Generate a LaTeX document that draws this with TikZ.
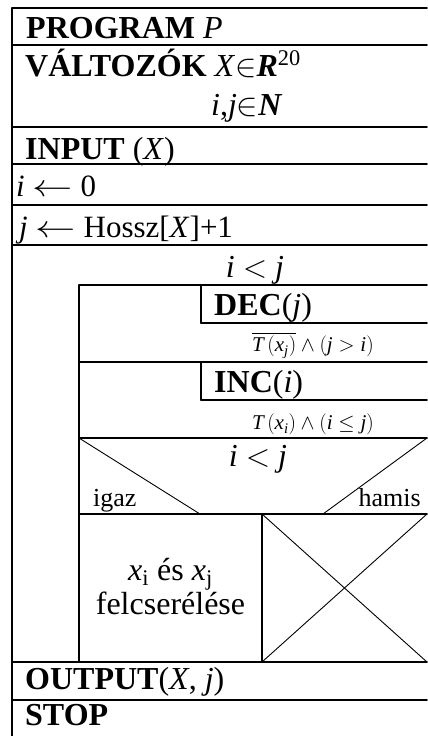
\documentclass[tikz,border=0pt]{standalone}
\usepackage{fix-cm}
\usepackage{amsmath}
\usepackage{fontspec}
\setmainfont{Liberation Serif}
\usepackage{tkz-euclide}
\newcommand{\bigtxt}{\fontsize{32}{36}\selectfont}
\newcommand{\regtxt}{\fontsize{31}{35}\selectfont}
\newcommand{\midtxt}{\fontsize{26}{30}\selectfont}
\newcommand{\smalltxt}{\fontsize{21}{24}\selectfont}
\newcommand{\celltxt}{\fontsize{32}{36}\selectfont}
\newcommand{\getsarrow}{\scalebox{1.3}[1]{$\leftarrow$}}

\begin{document}
\begin{tikzpicture}[scale=.3514,line cap=rect,txt/.style={inner sep=0pt}]
\tkzSetUpLine[line width=1.8pt,color=black]
\useasboundingbox (0,0) rectangle (42.7,73.6);

\tkzDefPoints{1.2/72.8/O,42.7/72.8/P,1.2/0/Q}
\tkzDefPoints{1.2/69.1/A,42.7/69.1/A',1.2/60.9/B,42.7/60.9/B',1.2/57.2/C,42.7/57.2/C'}
\tkzDefPoints{1.2/53.1/D,42.7/53.1/D',1.2/49.1/E,42.7/49.1/E',1.2/7.4/F,42.7/7.4/F',1.2/3.6/G,42.7/3.6/G'}
% ciklus
\tkzDefPoints{7.9/45.1/W,42.7/45.1/W',7.9/7.4/V}
\tkzDefPoints{20.1/45.1/H,20.1/41.3/H',42.7/41.3/H''}
\tkzDefPoints{7.9/37.4/S,42.7/37.4/S',20.1/37.4/I,20.1/33.6/I',42.7/33.6/I''}
\tkzDefPoints{7.9/29.8/T,42.7/29.8/T',7.9/22.2/U,42.7/22.2/U'}
% elagazas
\tkzDefPoints{20.0/22.2/K,32.3/22.2/L,26.2/22.2/M,26.2/7.4/N}

\tkzDrawSegments(O,P O,Q A,A' B,B' C,C' D,D' E,E' F,F' G,G')
\tkzDrawSegments(W,W' W,V H,H' H',H'' S,S' I,I' I',I'' T,T' U,U' M,N)
\tkzDrawSegments[line width=0.9pt](T,K T',L M,F' U',N)

\node (prog) [txt,anchor=base west] at (2.6,69.7) {\bigtxt\textbf{PROGRAM} \textit{P}};
\node (valt) [txt,anchor=base west] at (2.5,65.9) {\bigtxt\textbf{VÁLTOZÓK} \textit{X}$\in$\textbf{\textit{R}}\textsuperscript{20}};
\node (vars) [txt,anchor=base west] at (21.1,62.0) {\bigtxt\textit{i},\textit{j}$\in$\textbf{\textit{N}}};
\node (inp) [txt,anchor=base west] at (2.5,57.6) {\bigtxt\textbf{INPUT} (\textit{X})};
\node (iset) [txt,anchor=base west] at (1.6,53.9) {\regtxt\textit{i} \getsarrow{} 0};
\node (jset) [txt,anchor=base west] at (1.9,49.8) {\regtxt\textit{j} \getsarrow{} Hossz[\textit{X}]+1};
\node (whl) [txt,anchor=base] at (25.5,45.8) {\bigtxt\textit{i} $<$ \textit{j}};
\node (dec) [txt,anchor=base west] at (21.4,42.0) {\bigtxt\textbf{DEC}(\textit{j})};
\node (cdec) [txt,anchor=base] at (31.3,38.4) {\smalltxt$\overline{\textit{T}\left(\textit{x}_{\textit{j}}\right)}\wedge\left(\textit{j}>\textit{i}\right)$};
\node (inc) [txt,anchor=base west] at (21.4,34.3) {\bigtxt\textbf{INC}(\textit{i})};
\node (cinc) [txt,anchor=base] at (31.3,30.6) {\smalltxt$\textit{T}\left(\textit{x}_{\textit{i}}\right)\wedge\left(\textit{i}\leq\textit{j}\right)$};
\node (cond) [txt,anchor=base] at (25.8,26.9) {\bigtxt\textit{i} $<$ \textit{j}};
\node (yes) [txt,anchor=base west] at (9.3,22.9) {\midtxt igaz};
\node (no) [txt,anchor=base east] at (42.1,22.9) {\midtxt hamis};
\node (swap) [txt,anchor=base] at (17.05,15.5) {\celltxt\textit{x}\textsubscript{i} és \textit{x}\textsubscript{j}};
\node (swap2) [txt,anchor=base] at (17.05,12.1) {\celltxt felcserélése};
\node (out) [txt,anchor=base west] at (2.5,4.6) {\bigtxt\textbf{OUTPUT}(\textit{X}, \textit{j})};
\node (stop) [txt,anchor=base west] at (2.5,1.0) {\bigtxt\textbf{STOP}};

\end{tikzpicture}
\end{document}
